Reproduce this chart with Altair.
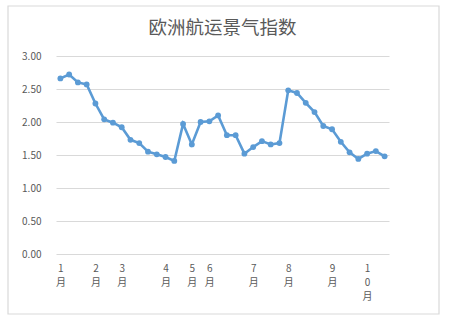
import json
import altair as alt
import pandas as pd

# ---- data ----
values = [2.66, 2.72, 2.60, 2.57, 2.28, 2.04, 1.99, 1.92, 1.73, 1.68,
          1.55, 1.51, 1.47, 1.41, 1.97, 1.66, 2.00, 2.01, 2.10, 1.80,
          1.80, 1.52, 1.62, 1.71, 1.66, 1.68, 2.48, 2.44, 2.29, 2.15,
          1.94, 1.89, 1.70, 1.54, 1.44, 1.52, 1.56, 1.48]
x_labels = ["1月", "", "", "", "2月", "", "", "3月", "", "",
            "", "", "4月", "", "", "5月", "", "6月", "", "",
            "", "", "7月", "", "", "", "8月", "", "", "",
            "", "9月", "", "", "", "10月", "", ""]
y_ticks = [0, 0.5, 1.0, 1.5, 2.0, 2.5, 3.0]
title = "欧洲航运景气指数"

df = pd.DataFrame({"idx": list(range(len(values))), "value": values})

# each label wrapped one character per line, as in the reference
wrapped = ["\n".join(list(s)) for s in x_labels]
label_expr = "split(" + json.dumps(wrapped, ensure_ascii=False) + "[datum.value], '\\n')"

FONT = "Noto Sans CJK SC"
BLUE = "#5B9BD5"
GRID = "#D9D9D9"
TXT = "#595959"

x_enc = alt.X("idx:O", title=None,
              scale=alt.Scale(type="point", padding=0.5),
              axis=alt.Axis(labelExpr=label_expr, labelAngle=0, domain=False,
                            ticks=False, grid=False, labelOverlap=False,
                            labelPadding=9, labelLineHeight=14.3,
                            labelFontSize=10, labelColor=TXT, labelFont=FONT,
                            labelBaseline="top"))
y_enc = alt.Y("value:Q", title=None,
              scale=alt.Scale(domain=[0, 3]),
              axis=alt.Axis(values=y_ticks, format=".2f", domain=False,
                            ticks=False, gridColor=GRID, gridWidth=1,
                            labelOverlap=False, labelBound=False,
                            labelPadding=15, labelFontSize=10,
                            labelColor=TXT, labelFont=FONT))

base = alt.Chart(df)
line = base.mark_line(color=BLUE, strokeWidth=2.6).encode(x=x_enc, y=y_enc)
pts = base.mark_point(filled=True, color=BLUE, size=34, opacity=1).encode(
    x=x_enc, y=y_enc)

border = alt.Chart(pd.DataFrame({"a": [0]})).mark_rect(
    fill=None, stroke=GRID, strokeWidth=1.2, clip=False
).encode(x=alt.value(-48), x2=alt.value(383), y=alt.value(-50), y2=alt.value(258))

chart = alt.layer(border, line, pts).properties(
    width=333, height=198,
    padding={"left": 56, "top": 56, "right": 61, "bottom": 66},
    autosize=alt.AutoSizeParams(type="none"),
    background="white",
    title=alt.TitleParams(title, font=FONT, fontSize=18.5, fontWeight="normal",
                          color=TXT, anchor="middle", offset=-32),
).configure_view(stroke=None)

chart.save("out.html", embed_options={"renderer": "svg", "actions": False})
